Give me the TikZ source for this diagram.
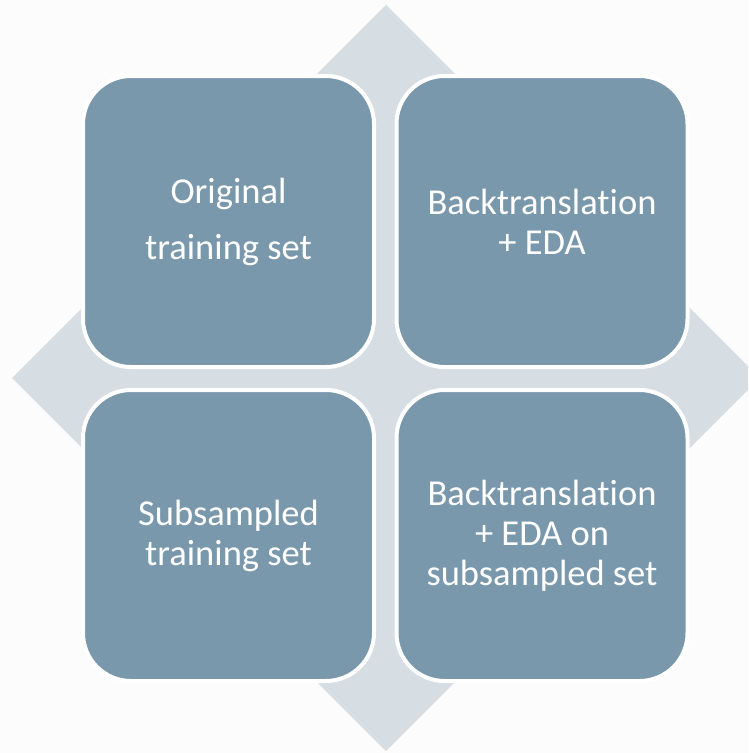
\documentclass[tikz,border=0pt]{standalone}
\usepackage{fontspec}
\setmainfont{Carlito}[Ligatures=NoCommon]
\definecolor{Canvas}{HTML}{FCFCFC}
\definecolor{Haze}{HTML}{D6DDE3}
\definecolor{Slate}{HTML}{7A98AC}

\begin{document}
\begin{tikzpicture}[x=1pt,y=-1pt,every node/.style={text=white},
  tile/.style={fill=Slate,draw=white,line width=4pt,rounded corners=48pt,
    minimum width=291pt,minimum height=291pt,inner sep=0pt,align=center,
    font=\fontsize{36.5}{40}\selectfont}]
\useasboundingbox (0,0) rectangle (748,753);
\clip (0,0) rectangle (748,753);
\fill[Canvas] (0,0) rectangle (748,753);
% diamond behind the tiles, its right tip runs off the page
\fill[Haze] (386,5)--(760,378)--(386,751)--(12,378)--cycle;
\node[tile,font=\fontsize{36.5}{56}\selectfont] (orig) at (228.5,221.5) {Original\\training set};
\node[tile] (bteda) at (542,221.5) {Backtranslation\\+ EDA};
\node[tile] (subs) at (228.5,535.5) {Subsampled\\training set};
\node[tile] (btsub) at (542,535.5) {Backtranslation\\+ EDA on\\subsampled set};
\end{tikzpicture}
\end{document}
